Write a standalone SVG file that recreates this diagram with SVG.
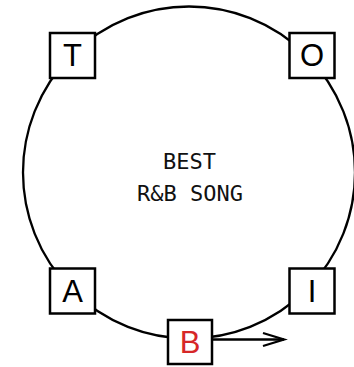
<svg xmlns="http://www.w3.org/2000/svg" width="354" height="367" viewBox="0 0 354 367">
<defs>
<style>
.box{fill:#fff;stroke:#000;stroke-width:2.5}
.lbl{font-family:"Liberation Sans",Arial,sans-serif;font-size:31px;text-anchor:middle;fill:#000}
.mid{font-family:"DejaVu Sans Mono",monospace;font-size:22px;text-anchor:middle;fill:#111}
.ln{fill:none;stroke:#000;stroke-width:2.3}
</style>
</defs>
<g id="connectors">
<circle class="ln" cx="189" cy="172.5" r="166"/>
<line class="ln" x1="212" y1="339.5" x2="284" y2="339.5"/>
<polyline class="ln" points="263,333 284,339.5 263,346"/>
</g>
<g id="center-label">
<text class="mid" x="189.5" y="169">BEST</text>
<text class="mid" x="190" y="201">R&amp;B SONG</text>
</g>
<g id="node-T">
<rect class="box" x="50" y="33" width="45" height="45"/>
<text class="lbl" x="72.5" y="66">T</text>
</g>
<g id="node-O">
<rect class="box" x="289.5" y="33" width="45" height="45"/>
<text class="lbl" x="312" y="66">O</text>
</g>
<g id="node-A">
<rect class="box" x="50" y="268.5" width="45" height="45"/>
<text class="lbl" x="72.5" y="302">A</text>
</g>
<g id="node-I">
<rect class="box" x="289.5" y="268.5" width="45" height="45"/>
<text class="lbl" x="312" y="302">I</text>
</g>
<g id="node-B">
<rect class="box" x="168" y="320" width="44" height="44"/>
<text class="lbl" x="190" y="353" style="fill:#d62728">B</text>
</g>
</svg>
